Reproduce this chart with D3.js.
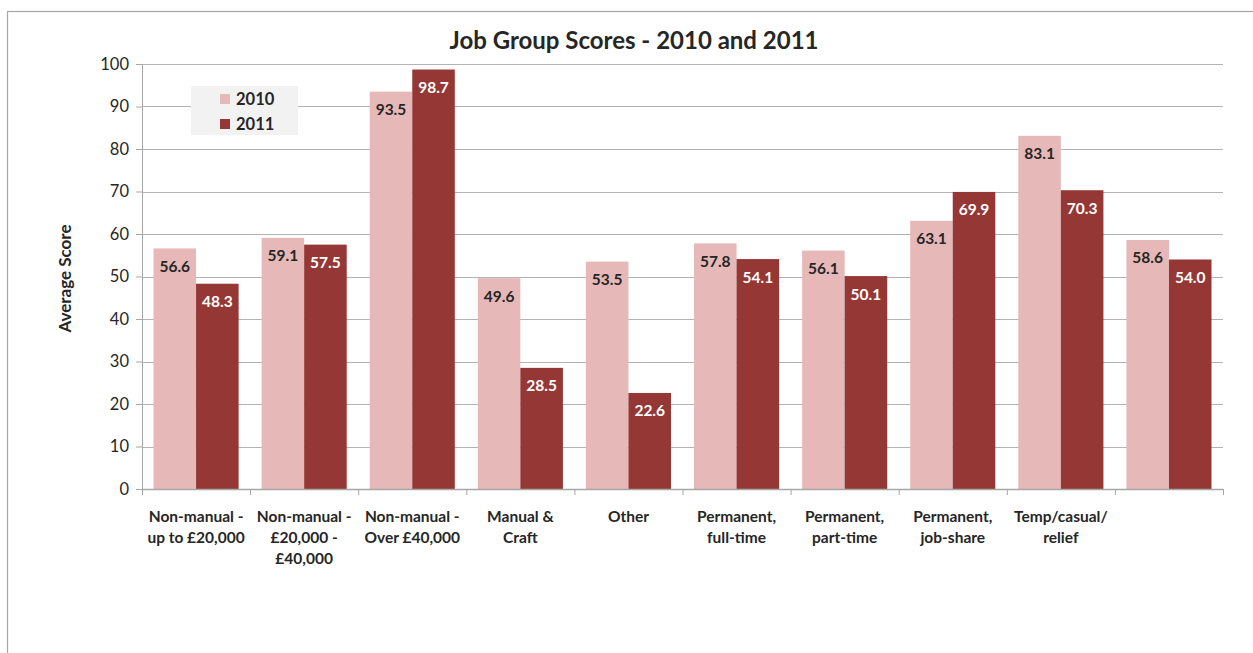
<!DOCTYPE html>
<html>
<head>
<meta charset="utf-8">
<script src="https://cdn.jsdelivr.net/npm/d3@7"></script>
<style>
  body { margin: 0; background: #fff; }
  svg { display: block; font-family: Lato, "Open Sans", sans-serif; }
</style>
</head>
<body>
<svg id="chart" width="1253" height="653"></svg>
<script>
// Job group scores by year
const categories = [
  ["Non-manual -", "up to £20,000"],
  ["Non-manual -", "£20,000 -", "£40,000"],
  ["Non-manual -", "Over £40,000"],
  ["Manual &", "Craft"],
  ["Other"],
  ["Permanent,", "full-time"],
  ["Permanent,", "part-time"],
  ["Permanent,", "job-share"],
  ["Temp/casual/", "relief"],
  [""]
];
const years = ["2010", "2011"];
const scores2010 = [56.6, 59.1, 93.5, 49.6, 53.5, 57.8, 56.1, 63.1, 83.1, 58.6];
const scores2011 = [48.3, 57.5, 98.7, 28.5, 22.6, 54.1, 50.1, 69.9, 70.3, 54.0];
const yTicks = [0, 10, 20, 30, 40, 50, 60, 70, 80, 90, 100];

const colors = { "2010": "#E6B9B8", "2011": "#953735" };
const labelColors = { "2010": "#262626", "2011": "#ffffff" };

const svg = d3.select("#chart");
const W = 1253, H = 653;
const margin = { left: 142, right: 30, top: 64, bottom: 164 };
const plotW = W - margin.left - margin.right;
const plotH = H - margin.top - margin.bottom;

// Outer frame (extends past the right and bottom edges)
svg.append("rect")
  .attr("x", 7.5).attr("y", 11.5)
  .attr("width", 1300).attr("height", 700)
  .attr("fill", "none").attr("stroke", "#a6a6a6").attr("stroke-width", 1.2);

const g = svg.append("g").attr("transform", `translate(${margin.left},${margin.top})`);

const x0 = d3.scaleBand().domain(d3.range(categories.length)).range([0, plotW]).paddingInner(0).paddingOuter(0);
const x1 = d3.scaleBand().domain(years).range([0, x0.bandwidth()]).paddingInner(0).paddingOuter(0.27);
const y = d3.scaleLinear().domain([0, 100]).range([plotH, 0]);

// Gridlines
g.append("g").selectAll("line").data(yTicks.filter(d => d > 0)).join("line")
  .attr("x1", 0).attr("x2", plotW)
  .attr("y1", d => Math.round(y(d)) + 0.5).attr("y2", d => Math.round(y(d)) + 0.5)
  .attr("stroke", "#b3b3b3").attr("stroke-width", 1);

// Y axis
const yAxis = g.append("g").call(d3.axisLeft(y).tickValues(yTicks).tickSize(6).tickPadding(7));
yAxis.select(".domain").attr("stroke", "#a6a6a6");
yAxis.selectAll(".tick line").attr("stroke", "#a6a6a6");
yAxis.selectAll(".tick text").attr("font-size", 16.5).attr("fill", "#262626")
  .attr("font-family", "Lato, sans-serif");

// Bars
const series = [
  { year: "2010", values: scores2010 },
  { year: "2011", values: scores2011 }
];
const groups = g.append("g").selectAll("g").data(series).join("g");
groups.selectAll("rect").data(s => s.values.map((v, i) => ({ year: s.year, v, i }))).join("rect")
  .attr("x", d => x0(d.i) + x1(d.year))
  .attr("y", d => y(d.v))
  .attr("width", x1.bandwidth())
  .attr("height", d => plotH - y(d.v))
  .attr("fill", d => colors[d.year]);

// Value labels inside bar tops
groups.selectAll("text").data(s => s.values.map((v, i) => ({ year: s.year, v, i }))).join("text")
  .attr("x", d => x0(d.i) + x1(d.year) + x1.bandwidth() / 2)
  .attr("y", d => y(d.v) + 23.5)
  .attr("text-anchor", "middle")
  .attr("font-size", 15.5).attr("font-weight", "bold")
  .attr("fill", d => labelColors[d.year])
  .text(d => d.v.toFixed(1));

// X axis
const xAxis = g.append("g").attr("transform", `translate(0,${plotH})`);
xAxis.append("line").attr("x1", 0).attr("x2", plotW).attr("y1", 0.5).attr("y2", 0.5)
  .attr("stroke", "#a6a6a6").attr("stroke-width", 1.5);
xAxis.selectAll(".tk").data(d3.range(categories.length + 1)).join("line")
  .attr("class", "tk")
  .attr("x1", i => (i < categories.length ? x0(i) : plotW) + 0.5)
  .attr("x2", i => (i < categories.length ? x0(i) : plotW) + 0.5)
  .attr("y1", 0).attr("y2", 6)
  .attr("stroke", "#a6a6a6");
const xl = xAxis.selectAll(".xl").data(categories).join("text")
  .attr("class", "xl")
  .attr("text-anchor", "middle")
  .attr("font-size", 15.5).attr("font-weight", "bold").attr("fill", "#262626")
  .attr("transform", (d, i) => `translate(${x0(i) + x0.bandwidth() / 2},33)`);
xl.selectAll("tspan").data(d => d).join("tspan")
  .attr("x", 0).attr("dy", (d, j) => j === 0 ? 0 : 21).text(d => d);

// Y axis title
svg.append("text")
  .attr("transform", `translate(71,${margin.top + plotH / 2 + 2}) rotate(-90)`)
  .attr("text-anchor", "middle")
  .attr("font-size", 17).attr("font-weight", "bold").attr("fill", "#262626")
  .text("Average Score");

// Chart title
svg.append("text")
  .attr("x", 634).attr("y", 49)
  .attr("text-anchor", "middle")
  .attr("font-size", 24).attr("font-weight", "bold").attr("fill", "#262626")
  .text("Job Group Scores - 2010 and 2011");

// Legend
const legend = svg.append("g").attr("transform", "translate(191,86)");
legend.append("rect").attr("width", 107).attr("height", 49).attr("fill", "#f2f2f2");
years.forEach((yr, k) => {
  const row = legend.append("g").attr("transform", `translate(29,${8 + k * 25})`);
  row.append("rect").attr("width", 10).attr("height", 10).attr("fill", colors[yr]);
  row.append("text").attr("x", 16).attr("y", 11)
    .attr("font-size", 16.5).attr("font-weight", "bold").attr("fill", "#262626")
    .text(yr);
});
</script>
</body>
</html>
